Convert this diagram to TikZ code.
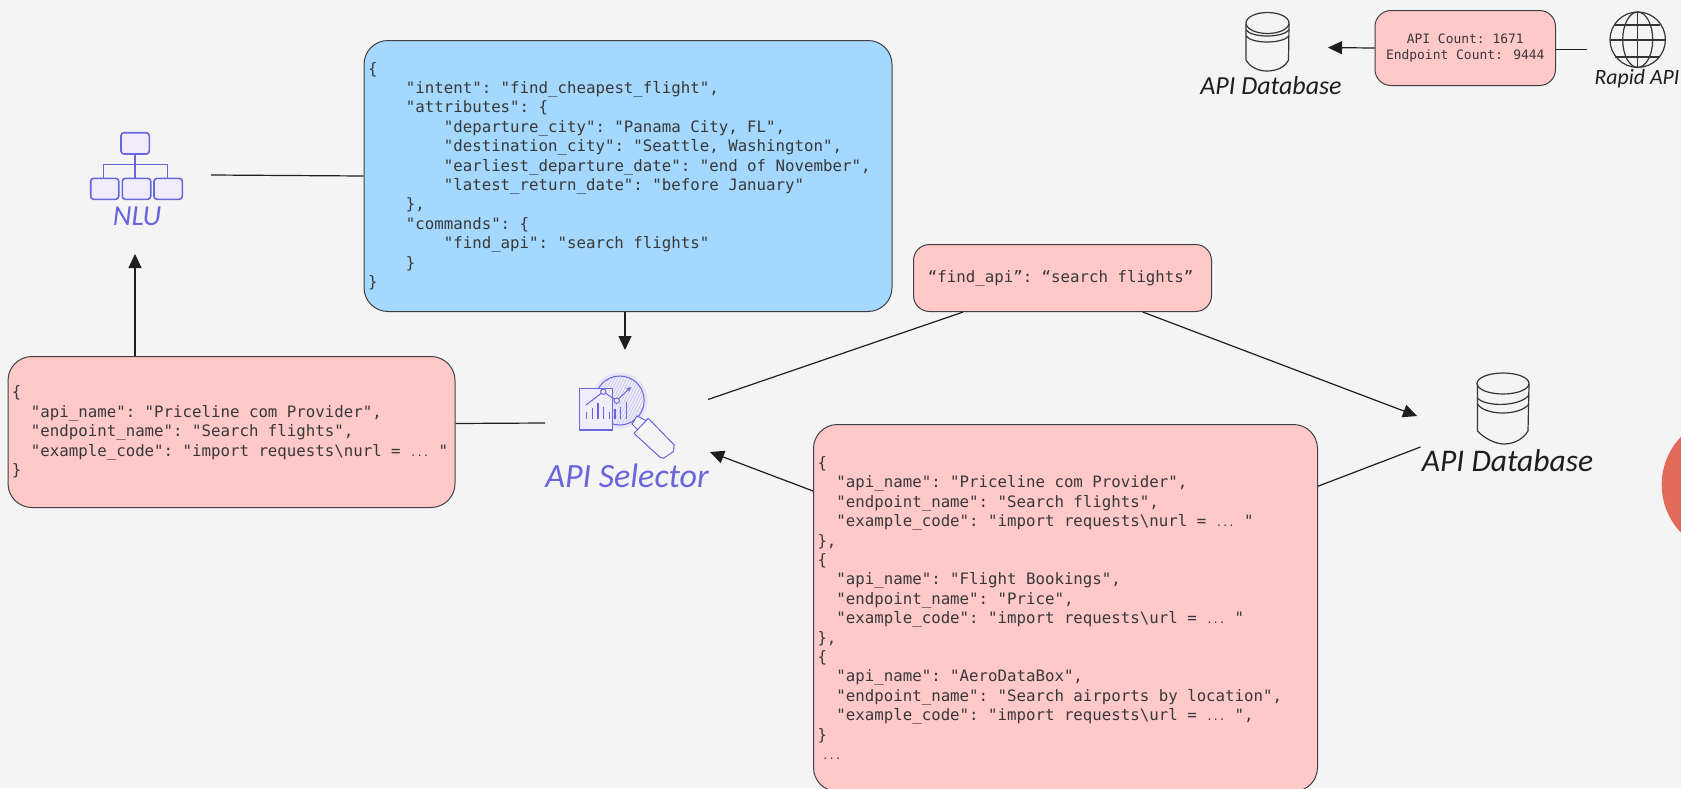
\documentclass[tikz,border=0pt]{standalone}
\usepackage{fontspec}
\usetikzlibrary{arrows.meta,calc}
\setmainfont{Liberation Sans}
\newfontfamily\codefont{DejaVu Sans Mono}
\newfontfamily\handfont{Carlito}
\newlength{\cw}\setlength{\cw}{9.48pt}
\newcommand{\ind}[1]{\hspace*{#1\cw}}
\newcommand{\fixsp}{\spaceskip=\cw\relax\xspaceskip=\cw\relax}
\newcommand{\fixspsmall}{\spaceskip=7.8pt\relax\xspaceskip=7.8pt\relax}
\newcommand{\dd}{\makebox[2\cw][c]{\fontsize{10.5}{10.5}\selectfont ...}}
\definecolor{bgc}{HTML}{F4F4F4}
\definecolor{pinkc}{HTML}{FFC9C9}
\definecolor{bluec}{HTML}{A5D8FF}
\definecolor{inkc}{HTML}{1E1E1E}
\definecolor{purp}{HTML}{6965DB}
\definecolor{purpl}{HTML}{F0ECFC}
\definecolor{purpm}{HTML}{E9E5F8}
\definecolor{redc}{HTML}{E16A5B}
\tikzset{
  codebox/.style={draw=inkc!85,line width=1pt,rounded corners=24pt,inner xsep=4pt,inner ysep=0pt,
    align=left,anchor=north west,text=black!78,font=\codefont\fontsize{15.75}{19.4}\selectfont},
  pinkbox/.style={codebox,fill=pinkc},
  bluebox/.style={codebox,fill=bluec},
  conn/.style={draw=inkc,line width=1.2pt},
  arr/.style={conn,-{Triangle[length=14pt,width=13pt]}},
  handlabel/.style={inner sep=0pt,font=\handfont\itshape},
  icon/.style={draw=purp,line width=1.6pt,fill=purpl,rounded corners=3pt},
  iconline/.style={draw=purp,line width=1.5pt},
  thin purple/.style={draw=purp,line width=1pt},
  dbline/.style={draw=inkc!90,line width=1.2pt},
}
\begin{document}
\begin{tikzpicture}[x=1pt,y=-1pt]
\useasboundingbox (0,0) rectangle (1681,788);
\clip (0,0) rectangle (1681,788);
\fill[bgc] (0,0) rectangle (1681,788);
\fill[redc] (1731,484.7) circle[radius=69.3pt];

% code boxes
\node[bluebox,text width=520pt,minimum height=271pt] (blue) at (363.5,40) {\fixsp
\{\\
\ind{4}"intent": "find\_cheapest\_flight",\\
\ind{4}"attributes": \{\\
\ind{8}"departure\_city": "Panama City, FL",\\
\ind{8}"destination\_city": "Seattle, Washington",\\
\ind{8}"earliest\_departure\_date": "end of November",\\
\ind{8}"latest\_return\_date": "before January"\\
\ind{4}\},\\
\ind{4}"commands": \{\\
\ind{8}"find\_api": "search flights"\\
\ind{4}\}\\
\}};

\node[pinkbox,text width=439pt,minimum height=151pt] (pinkL) at (7.5,356) {\fixsp
\{\\
\ind{2}"api\_name": "Priceline com Provider",\\
\ind{2}"endpoint\_name": "Search flights",\\
\ind{2}"example\_code": "import requests\textbackslash nurl = \dd{} "\\
\}};

\node[pinkbox,text width=290pt,minimum height=67pt,rounded corners=16pt] (find) at (913,244) {\fixsp
\ind{1.1}“find\_api”: “search flights”};

\node[pinkbox,text width=496pt,minimum height=367pt] (pinkR) at (813,424) {\fixsp
\{\\
\ind{2}"api\_name": "Priceline com Provider",\\
\ind{2}"endpoint\_name": "Search flights",\\
\ind{2}"example\_code": "import requests\textbackslash nurl = \dd{} "\\
\},\\
\{\\
\ind{2}"api\_name": "Flight Bookings",\\
\ind{2}"endpoint\_name": "Price",\\
\ind{2}"example\_code": "import requests\textbackslash url = \dd{} "\\
\},\\
\{\\
\ind{2}"api\_name": "AeroDataBox",\\
\ind{2}"endpoint\_name": "Search airports by location",\\
\ind{2}"example\_code": "import requests\textbackslash url = \dd{} ",\\
\}\\
\ind{0.5}\fontsize{10.5}{19.4}\selectfont ...};

\node[draw=inkc!85,line width=1pt,fill=pinkc,rounded corners=16pt,minimum width=180.5pt,minimum height=75pt,
  inner sep=0pt,align=center,text=black!78,font=\codefont\fontsize{12.95}{16}\selectfont,anchor=north west] (count) at (1374.5,10)
  {\fixspsmall API Count: 1671\\Endpoint Count: 9444};

% labels
\node[handlabel,text=purp,font=\handfont\itshape\fontsize{29}{29}\selectfont] (nluL) at (137,216) {NLU};
\node[handlabel,text=purp,font=\handfont\itshape\fontsize{34}{34}\selectfont] (selL) at (627,476) {API Selector};
\node[handlabel,text=inkc,font=\handfont\itshape\fontsize{31.5}{31.5}\selectfont] (dbL) at (1507.5,461) {API Database};
\node[handlabel,text=inkc,font=\handfont\itshape\fontsize{26}{26}\selectfont] (dbTopL) at (1271,86) {API Database};
\node[handlabel,text=inkc,font=\handfont\itshape\fontsize{21.8}{21.8}\selectfont] (rapidL) at (1637,79) {Rapid API};

% NLU icon
\draw[iconline] (135,154) -- (135,178);
\draw[iconline] (103.3,178) -- (103.3,164.3) -- (167.3,164.3) -- (167.3,178);
\draw[icon] (121,132.7) rectangle (149.3,154);
\draw[icon] (90.7,178.3) rectangle (118.7,199.3);
\draw[icon] (122.3,178.3) rectangle (150.7,199.3);
\draw[icon] (154,178.3) rectangle (182.3,199.3);

% API selector icon
\fill[purpm] (619.7,400.5) circle[radius=28pt];
\begin{scope}
  \clip (619.7,400.5) circle[radius=24.5pt];
  \fill[bgc!60!purpm] (595,376) rectangle (645,425);
  \foreach \k in {0,3,...,75}
    \draw[purp!35,line width=0.7pt] (580+\k,430) -- (610+\k,370);
\end{scope}
\draw[thin purple] (619.7,400.5) circle[radius=24.5pt];
\draw[thin purple,fill=bgc] (637,416) -- (632,424) -- (640,432) -- (647,421) -- cycle;
\draw[thin purple,fill=bgc,line join=round] (634,433.3) -- (648.3,418.3) -- (674.3,445) -- (673.3,451.7) -- (663.3,458.3) -- (660,457.3) -- cycle;
\draw[thin purple,fill=purpl,line width=1.2pt] (579.3,388.7) rectangle (612.7,430);
\draw[thin purple] (586,405) -- (603.3,391.7) -- (616.7,400.7);
\draw[thin purple,-{Stealth[length=5pt,width=4.5pt]}] (616.7,400.7) -- (631,387);
\draw[thin purple,fill=purpl] (603.3,391.7) circle[radius=2.7pt];
\draw[thin purple,fill=purpl] (616.7,400.7) circle[radius=2.7pt];
\foreach \bx/\by in {586.7/412.3,592.3/408.3,598/403.3,603.7/407.3,609.3/411.7,615/409.3,620.7/406.7,626.3/401.7}
  \draw[purp,line width=1.5pt] (\bx,\by) -- (\bx,419.3);

% top database icon
\draw[dbline,fill=bgc] (1246,24) -- (1246,60) .. controls (1250,67) and (1258,71) .. (1267,71) .. controls (1277,71) and (1285,67) .. (1288.5,60) -- (1289,24);
\draw[dbline] (1267.5,23) ellipse[x radius=21.5pt,y radius=10.5pt];
\draw[dbline] (1246,30) .. controls (1252,38) and (1282,38) .. (1289,30);
\draw[dbline] (1246,36) .. controls (1252,44) and (1282,44) .. (1289,36);

% lower database icon
\draw[dbline,fill=bgc] (1477.5,384) -- (1477.5,431) .. controls (1484,438) and (1495,444) .. (1504,444) .. controls (1515,444) and (1524,438) .. (1528,431) -- (1529,384);
\draw[dbline] (1503,383.5) ellipse[x radius=26pt,y radius=10.5pt];
\draw[dbline] (1477.5,398) .. controls (1485,407) and (1520,407) .. (1529,395);
\draw[dbline] (1477.5,404) .. controls (1485,416) and (1520,416) .. (1529,404);

% globe icon
\draw[dbline] (1637.7,39.7) circle[radius=27.7pt];
\draw[dbline] (1637.7,39.7) ellipse[x radius=15pt,y radius=27.7pt];
\draw[dbline] (1637.7,12) -- (1637.7,67.4);
\draw[dbline] (1615,25) -- (1660,25);
\draw[dbline] (1610,40) -- (1665.4,40);
\draw[dbline] (1615,57) -- (1660,57);

% free connector ends
\coordinate (nluR) at (211,175);
\coordinate (nluB) at (135,254);
\coordinate (selT) at (625,350);
\coordinate (selW) at (545,423);
\coordinate (selE) at (708,399.5);
\coordinate (selS) at (710,452);
\coordinate (dbW)  at (1417,416);
\coordinate (dbS)  at (1420.5,447);
\coordinate (dbTopE) at (1328,47.6);
\coordinate (globeW) at (1587,49.5);

% connectors
\draw[conn] (nluR) -- (blue.west);
\draw[arr] (blue.south -| selT) -- (selT);
\draw[arr] (pinkL.north -| nluB) -- (nluB);
\draw[conn] ($(pinkL.north east)!0.444!(pinkL.south east)$) -- (selW);
\draw[conn] (selE) -- ($(find.south west)!0.168!(find.south east)$);
\draw[arr] ($(find.south west)!0.768!(find.south east)$) -- (dbW);
\draw[conn] (dbS) -- ($(pinkR.north east)!0.169!(pinkR.south east)$);
\draw[arr] ($(pinkR.north west)!0.182!(pinkR.south west)$) -- (selS);
\draw[arr] (count.west) -- (dbTopE);
\draw[conn] (globeW) -- (globeW -| count.east);
\end{tikzpicture}
\end{document}
